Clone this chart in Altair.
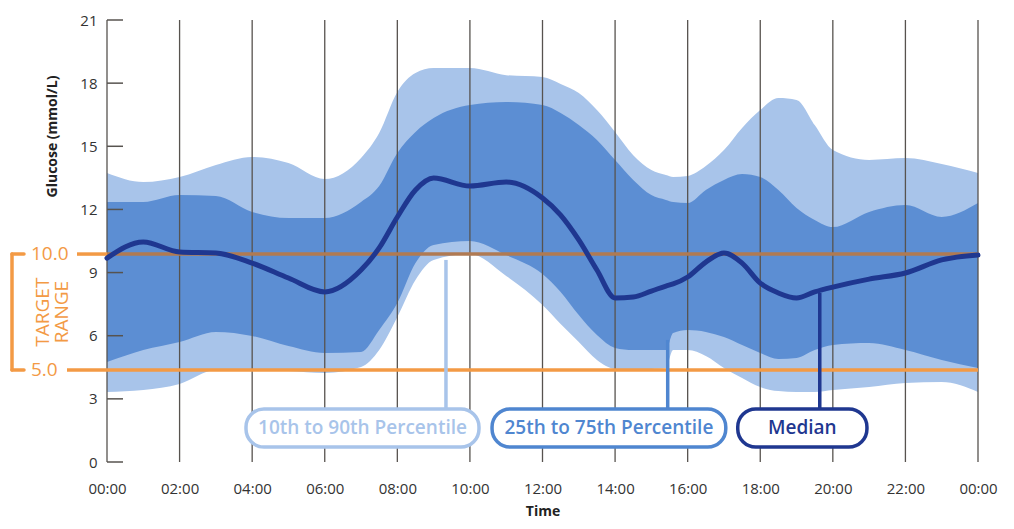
import altair as alt
import pandas as pd

# ---------------- data ----------------
hours = [0, 1, 2, 3, 4, 5, 6, 7, 7.5, 8, 8.5, 9, 10, 11, 12, 12.5, 13, 13.5, 14, 14.5, 15,
         15.4, 15.6, 16, 16.5, 17, 17.5, 18, 18.5, 19, 19.5, 20, 21, 22, 23, 24]
p90 = [13.73, 13.30, 13.54, 14.11, 14.49, 14.20, 13.44, 14.44, 15.63, 17.58, 18.48, 18.72,
       18.72, 18.38, 18.29, 17.96, 17.53, 16.72, 15.68, 14.58, 13.87, 13.63, 13.54, 13.59,
       14.06, 14.82, 15.87, 16.72, 17.29, 17.20, 16.01, 14.82, 14.35, 14.44, 14.16, 13.73]
p75 = [12.35, 12.35, 12.68, 12.64, 11.88, 11.59, 11.59, 12.35, 13.11, 14.68, 15.68, 16.34,
       16.96, 17.10, 16.96, 16.58, 16.01, 15.30, 14.35, 13.40, 12.68, 12.45, 12.35, 12.30,
       12.92, 13.40, 13.68, 13.54, 12.92, 12.07, 11.50, 11.16, 11.88, 12.21, 11.64, 12.30]
median = [9.69, 10.45, 9.98, 9.93, 9.45, 8.74, 8.08, 9.12, 10.17, 11.64, 12.92, 13.49,
          13.11, 13.30, 12.54, 11.73, 10.55, 9.12, 7.79, 7.84, 8.12, 8.36, 8.46, 8.79,
          9.50, 9.93, 9.45, 8.50, 8.03, 7.79, 8.08, 8.31, 8.69, 8.98, 9.60, 9.83]
p25 = [4.75, 5.32, 5.70, 6.18, 5.99, 5.51, 5.18, 5.23, 6.27, 7.55, 9.45, 10.31,
       10.50, 9.83, 8.93, 8.08, 6.98, 6.03, 5.42, 5.32, 5.32, 5.32, 6.13, 6.27,
       6.18, 5.94, 5.56, 5.18, 4.89, 4.94, 5.32, 5.56, 5.65, 5.32, 4.85, 4.47]
p10 = [3.33, 3.42, 3.71, 4.37, 4.37, 4.32, 4.23, 4.51, 5.32, 6.89, 8.65, 9.60,
       9.88, 8.84, 7.46, 6.56, 5.70, 4.85, 4.42, 4.37, 4.42, 4.47, 5.32, 5.32,
       5.04, 4.47, 3.99, 3.56, 3.37, 3.33, 3.33, 3.42, 3.56, 3.75, 3.80, 3.33]

x_ticks = [0, 2, 4, 6, 8, 10, 12, 14, 16, 18, 20, 22, 24]
x_tick_labels = ["00:00", "02:00", "04:00", "06:00", "08:00", "10:00", "12:00",
                 "14:00", "16:00", "18:00", "20:00", "22:00", "00:00"]
y_ticks = [0, 3, 6, 9, 12, 15, 18, 21]

target_values = [9.88, 4.37]
target_labels = ["10.0", "5.0"]
target_mid = 7.12

legend_labels = ["10th to 90th Percentile", "25th to 75th Percentile", "Median"]
legend_start = [3.83, 10.61, 17.38]
legend_end = [10.25, 17.05, 20.94]
legend_top = 2.52
legend_bottom = 0.71
connector_hour = [9.34, 15.45, 19.64]
connector_top = [9.6, 5.8, 8.03]

# ---------------- styling ----------------
FONT = "Open Sans"
LIGHT = "#a8c4ea"
MID = "#5c8ed3"
NAVY = "#1f3790"
ORANGE = "#f39a45"
BROWN = "#b07a52"
GRID = "#57534f"
W, H = 871, 442

df = pd.DataFrame({"hour": hours, "p90": p90, "p75": p75, "median": median,
                   "p25": p25, "p10": p10})
grid_df = pd.DataFrame({"hour": x_ticks})
ytick_df = pd.DataFrame({"v": y_ticks})
target_df = pd.DataFrame({"v": target_values, "label": target_labels})
leg_df = pd.DataFrame({
    "label": legend_labels,
    "start": legend_start,
    "end": legend_end,
    "center": [(a + b) / 2 for a, b in zip(legend_start, legend_end)],
    "top": legend_top,
    "bottom": legend_bottom,
    "mid": (legend_top + legend_bottom) / 2,
    "chour": connector_hour,
    "ctop": connector_top,
})

xs = alt.Scale(domain=[0, 24], nice=False, zero=False)
ys = alt.Scale(domain=[0, 21], nice=False)
leg_colors = alt.Scale(domain=legend_labels, range=[LIGHT, "#4f86d0", NAVY])

label_expr = "[" + ",".join("'%s'" % s for s in x_tick_labels) + "][datum.value / 2]"

X_AXIS = alt.Axis(
    values=x_ticks, labelExpr=label_expr, domain=False, ticks=False, grid=False,
    labelPadding=19, labelFontSize=15, labelFont=FONT, labelColor="#333",
    labelOverlap=False, labelBound=False, labelFlush=False,
    title="Time", titleFont=FONT, titleFontSize=14, titleFontWeight="bold",
    titleColor="#222", titleY=53, titleBaseline="alphabetic")
Y_AXIS = alt.Axis(
    values=y_ticks, domain=False, ticks=False, grid=False, labelPadding=10,
    labelFontSize=15, labelFont=FONT, labelColor="#333",
    title="Glucose (mmol/L)", titleFont=FONT, titleFontSize=14,
    titleFontWeight="bold", titleColor="#222", titleX=-55, titleY=116,
    titleAngle=270, titleAlign="center", titleBaseline="middle")


def X(field):
    return alt.X(field, scale=xs, axis=X_AXIS)


def Y(field):
    return alt.Y(field, scale=ys, axis=Y_AXIS)


light = alt.Chart(df).mark_area(color=LIGHT, interpolate="monotone").encode(
    x=X("hour:Q"), y=Y("p90:Q"), y2="p10:Q",
)

dark = alt.Chart(df).mark_area(color=MID, interpolate="monotone").encode(
    x=X("hour:Q"), y=Y("p75:Q"), y2="p25:Q",
)

grid = alt.Chart(grid_df).mark_rule(color=GRID, strokeWidth=1.3).encode(x=X("hour:Q"))

yticks = alt.Chart(ytick_df).mark_rule(color=GRID, strokeWidth=1.5).encode(
    y=Y("v:Q"), x=alt.value(0), x2=alt.value(16)
)

# target lines: inside plot and the short lead-in left of the axis
t_top = alt.Chart(target_df.iloc[[0]]).mark_rule(color=BROWN, strokeWidth=3.5).encode(
    y=Y("v:Q"), x=alt.value(0), x2=alt.value(W)
)
t_bot = alt.Chart(target_df.iloc[[1]]).mark_rule(color=ORANGE, strokeWidth=3.5).encode(
    y=Y("v:Q"), x=alt.value(0), x2=alt.value(W)
)
lead_top = alt.Chart(target_df.iloc[[0]]).mark_rule(color=ORANGE, strokeWidth=3.5).encode(
    y=Y("v:Q"), x=alt.value(-30), x2=alt.value(0)
)
lead_bot = alt.Chart(target_df.iloc[[1]]).mark_rule(color=ORANGE, strokeWidth=3.5).encode(
    y=Y("v:Q"), x=alt.value(-40), x2=alt.value(0)
)
t_text = alt.Chart(target_df).mark_text(
    color=ORANGE, font=FONT, fontSize=19, align="left", baseline="middle"
).encode(y=Y("v:Q"), x=alt.value(-76), text="label:N")

bracket_v = alt.Chart(target_df.iloc[[0]]).mark_rule(
    color=ORANGE, strokeWidth=3.5, strokeCap="round"
).encode(y=Y("v:Q"), y2=alt.datum(target_values[1]), x=alt.value(-95))
bracket_h = alt.Chart(target_df).mark_rule(
    color=ORANGE, strokeWidth=3.5, strokeCap="round"
).encode(y=Y("v:Q"), x=alt.value(-95), x2=alt.value(-83))

tr_df = pd.DataFrame({"t": ["TARGET", "RANGE"], "v": [target_mid, target_mid]})
tr_a = alt.Chart(tr_df.iloc[[0]]).mark_text(
    color=ORANGE, font=FONT, fontSize=19, angle=270, align="center", baseline="middle"
).encode(y=Y("v:Q"), x=alt.value(-64), text="t:N")
tr_b = alt.Chart(tr_df.iloc[[1]]).mark_text(
    color=ORANGE, font=FONT, fontSize=19, angle=270, align="center", baseline="middle"
).encode(y=Y("v:Q"), x=alt.value(-45), text="t:N")

med = alt.Chart(df).mark_line(
    color=NAVY, strokeWidth=5, interpolate="monotone", strokeCap="round"
).encode(x=X("hour:Q"), y=Y("median:Q"))

connectors = alt.Chart(leg_df).mark_rule(strokeWidth=3.5).encode(
    x=X("chour:Q"), y=Y("ctop:Q"), y2="top:Q",
    color=alt.Color("label:N", scale=leg_colors, legend=None),
)

boxes = alt.Chart(leg_df).mark_rect(
    fill="white", strokeWidth=3.5, cornerRadius=18
).encode(
    x=X("start:Q"), x2="end:Q", y=Y("top:Q"), y2="bottom:Q",
    stroke=alt.Stroke("label:N", scale=leg_colors, legend=None),
)

box_text = alt.Chart(leg_df).mark_text(
    font=FONT, fontSize=19, fontWeight=600, align="center", baseline="middle"
).encode(
    x=X("center:Q"), y=Y("mid:Q"), text="label:N",
    color=alt.Color("label:N", scale=leg_colors, legend=None),
)

chart = alt.layer(
    light, dark, grid, yticks, t_top, t_bot, lead_top, lead_bot, t_text,
    bracket_v, bracket_h, tr_a, tr_b, med, connectors, boxes, box_text
).properties(
    width=W, height=H,
    autosize=alt.AutoSizeParams(type="none"),
    padding={"left": 99, "top": 12, "right": 20, "bottom": 59},
    background="white",
).configure_view(stroke=None)

chart.save("out.html", embed_options={"renderer": "svg", "actions": False})
